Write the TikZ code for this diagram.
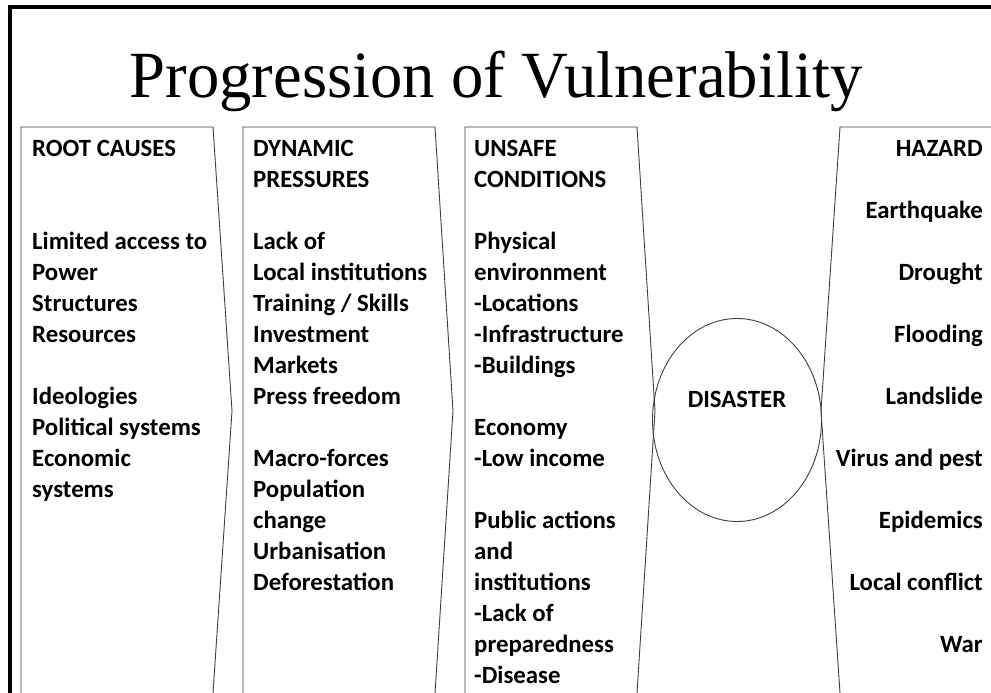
\documentclass[tikz,border=0pt]{standalone}
\usepackage{graphicx}
\usepackage{fontspec}
\setmainfont{Carlito}
\newfontfamily\titlefont{Liberation Serif}
\usetikzlibrary{shapes.geometric,positioning}

\tikzset{
  col/.style={draw=black!75, line width=0.9pt, line join=miter},
  txt/.style={font=\bfseries\fontsize{24.8}{31}\selectfont, inner sep=0pt, anchor=north west, align=left},
}

\begin{document}
\begin{tikzpicture}[x=1pt,y=-1pt]
\useasboundingbox (0,0) rectangle (991,693);
\fill[white] (0,0) rectangle (991,693);
% frame
\draw[line width=4pt] (10,693) -- (10,7) -- (991,7);
% title
\node[font=\titlefont\fontsize{66}{70}\selectfont, inner sep=0pt, anchor=base] (title) at (496,97) {\scalebox{0.98}[1]{Progression of Vulnerability}};

% chevrons
\draw[col] (21,693) -- (21,127) -- (213,127) -- (232,411) -- (213,693);
\draw[col] (243,693) -- (243,127) -- (435,127) -- (453,411) -- (435,693);
\draw[col] (465,693) -- (465,127) -- (637,127) -- (655,411) -- (637,693);
\draw[col] (991,127) -- (840,127) -- (821,411) -- (840,693);

\node[txt] (rc) at (32,140) {ROOT CAUSES\\[62pt]
  Limited access to\\ Power\\ Structures\\ Resources\\[31pt]
  Ideologies\\ Political systems\\ Economic\\ systems};
\node[txt] (dp) at (253,140) {DYNAMIC\\ PRESSURES\\[31pt]
  Lack of\\ Local institutions\\ Training / Skills\\ Investment\\ Markets\\ Press freedom\\[31pt]
  Macro-forces\\ Population\\ change\\ Urbanisation\\ Deforestation};
\node[txt] (uc) at (474,140) {UNSAFE\\ CONDITIONS\\[31pt]
  Physical\\ environment\\ -Locations\\ -Infrastructure\\ -Buildings\\[31pt]
  Economy\\ -Low income\\[31pt]
  Public actions\\ and\\ institutions\\ -Lack of\\ preparedness\\ -Disease};
\node[txt, anchor=north east, align=right] (hz) at (983,140) {HAZARD\\[31pt]
  Earthquake\\[31pt] Drought\\[31pt] Flooding\\[31pt] Landslide\\[31pt]
  Virus and pest\\[31pt] Epidemics\\[31pt] Local conflict\\[31pt] War};

% disaster
\node[ellipse, draw=black!75, line width=0.9pt, minimum width=169, minimum height=203, inner sep=0pt] (disaster) at (737,420) {};
\node[txt, anchor=base] (dlabel) at (737,407) {DISASTER};
\end{tikzpicture}
\end{document}
